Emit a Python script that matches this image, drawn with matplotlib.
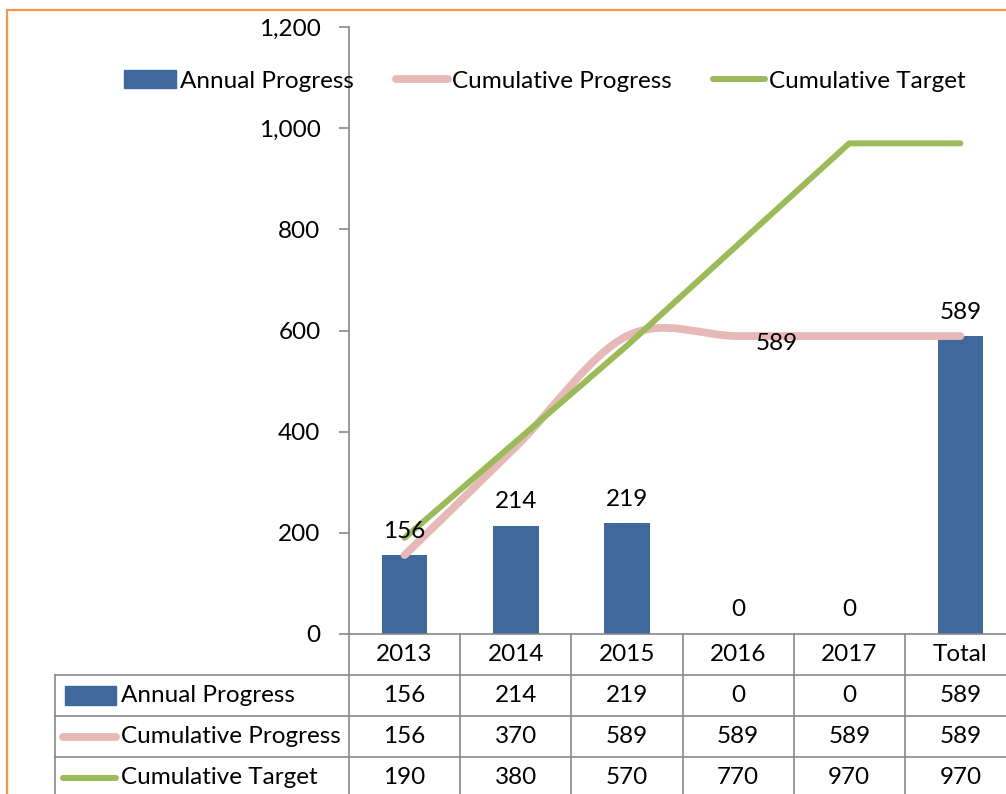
import matplotlib.pyplot as plt
from matplotlib.patches import Rectangle, PathPatch
from matplotlib.path import Path
from matplotlib.lines import Line2D
import numpy as np

categories = ['2013', '2014', '2015', '2016', '2017', 'Total']
annual = [156, 214, 219, 0, 0, 589]
cum_progress = [156, 370, 589, 589, 589, 589]
cum_target = [190, 380, 570, 770, 970, 970]
series_names = ['Annual Progress', 'Cumulative Progress', 'Cumulative Target']

blue = '#3F689C'
pink = '#E6B9B8'
green = '#9BBB59'
grey = '#878787'

plt.rcParams['font.family'] = ['Lato', 'DejaVu Sans']
fs = 17.5

W, H = 1006, 794
fig = plt.figure(figsize=(W / 100, H / 100), dpi=100)


def box(l, t, r, b):
    return [l / W, (H - b) / H, (r - l) / W, (b - t) / H]


# orange outer border
fig.add_artist(Rectangle((7 / W, -0.1), 1.2, (H - 10) / H + 0.1, transform=fig.transFigure,
                         fill=False, edgecolor='#F79646', lw=1.6))

ax = fig.add_axes(box(349, 27, 1016, 634))
x = np.arange(len(categories))
ax.set_xlim(-0.5, 5.5)
ax.set_ylim(0, 1200)

bars = ax.bar(x, annual, width=0.41, color=blue, zorder=2)
for xi, v in zip(x, annual):
    ax.annotate(str(v), (xi, v), xytext=(0, 24), textcoords='offset pixels',
                ha='center', va='center', fontsize=fs, zorder=6)

# smoothed cumulative progress line (cubic bezier through the points)
pts = np.column_stack([x, cum_progress]).astype(float)
verts = [pts[0]]
codes = [Path.MOVETO]
n = len(pts)
for i in range(n - 1):
    p0 = pts[i - 1] if i > 0 else pts[i]
    p1 = pts[i]
    p2 = pts[i + 1]
    p3 = pts[i + 2] if i + 2 < n else pts[i + 1]
    c1 = p1 + (p2 - p0) / 6
    c2 = p2 - (p3 - p1) / 6
    verts += [c1, c2, p2]
    codes += [Path.CURVE4] * 3
ax.add_patch(PathPatch(Path(verts, codes), facecolor='none', edgecolor=pink,
                       lw=5.6, capstyle='round', joinstyle='round', zorder=3))
ax.annotate(str(cum_progress[3]), (x[3], cum_progress[3]), xytext=(39, -7),
            textcoords='offset pixels', ha='center', va='center', fontsize=fs, zorder=6)

ax.plot(x, cum_target, color=green, lw=4.3, solid_capstyle='round',
        solid_joinstyle='round', zorder=4)

for s in ['top', 'right']:
    ax.spines[s].set_visible(False)
for s in ['left', 'bottom']:
    ax.spines[s].set_color(grey)
    ax.spines[s].set_linewidth(1.2)
ax.set_yticks(range(0, 1201, 200))
ax.set_yticklabels([f'{v:,}' for v in range(0, 1201, 200)], fontsize=fs)
ax.tick_params(axis='y', length=7, width=1.2, color=grey, pad=13.5)
ax.set_xticks([])

handles = [Rectangle((0, 0), 1, 1, color=blue),
           Line2D([], [], color=pink, lw=5.6, solid_capstyle='round'),
           Line2D([], [], color=green, lw=4.3, solid_capstyle='round')]
leg = fig.legend(handles, series_names, loc='center', bbox_to_anchor=(545 / W, 1 - 81 / H),
                 ncol=3, frameon=False, fontsize=fs, handlelength=2.14, handletextpad=0.16,
                 columnspacing=1.71)
leg.set_zorder(10)

# data table below the axes
tab = fig.add_axes(box(349, 634, 1016, 798))
tab.set_xlim(-0.5, 5.5)
tab.set_ylim(4, 0)
tab.axis('off')
left = -0.5 - (349 - 55) / (667 / 6)
lk = dict(color=grey, lw=1.2, clip_on=False)
for r in range(1, 5):
    tab.plot([left, 5.5], [r, r], **lk)
tab.plot([left, left], [1, 4], **lk)
for c in range(7):
    tab.plot([c - 0.5, c - 0.5], [0, 4], **lk)
for i, c in enumerate(categories):
    tab.text(i, 0.5, c, ha='center', va='center', fontsize=fs)
for r, vals in enumerate([annual, cum_progress, cum_target], start=1):
    for i, v in enumerate(vals):
        tab.text(i, r + 0.5, str(v), ha='center', va='center', fontsize=fs)
colw = 667 / 6
def tx(px):
    return -0.5 + (px - 349) / colw
tab.add_patch(Rectangle((tx(65), 1.5 - 0.23), tx(116) - tx(65), 0.46, color=blue, clip_on=False))
tab.plot([tx(63), tx(116)], [2.5, 2.5], color=pink, lw=5.6, solid_capstyle='round', clip_on=False)
tab.plot([tx(63), tx(116)], [3.5, 3.5], color=green, lw=4.3, solid_capstyle='round', clip_on=False)
for r, name in enumerate(series_names, start=1):
    tab.text(tx(121), r + 0.5, name, ha='left', va='center', fontsize=fs)

fig.savefig('out.png', dpi=100)
